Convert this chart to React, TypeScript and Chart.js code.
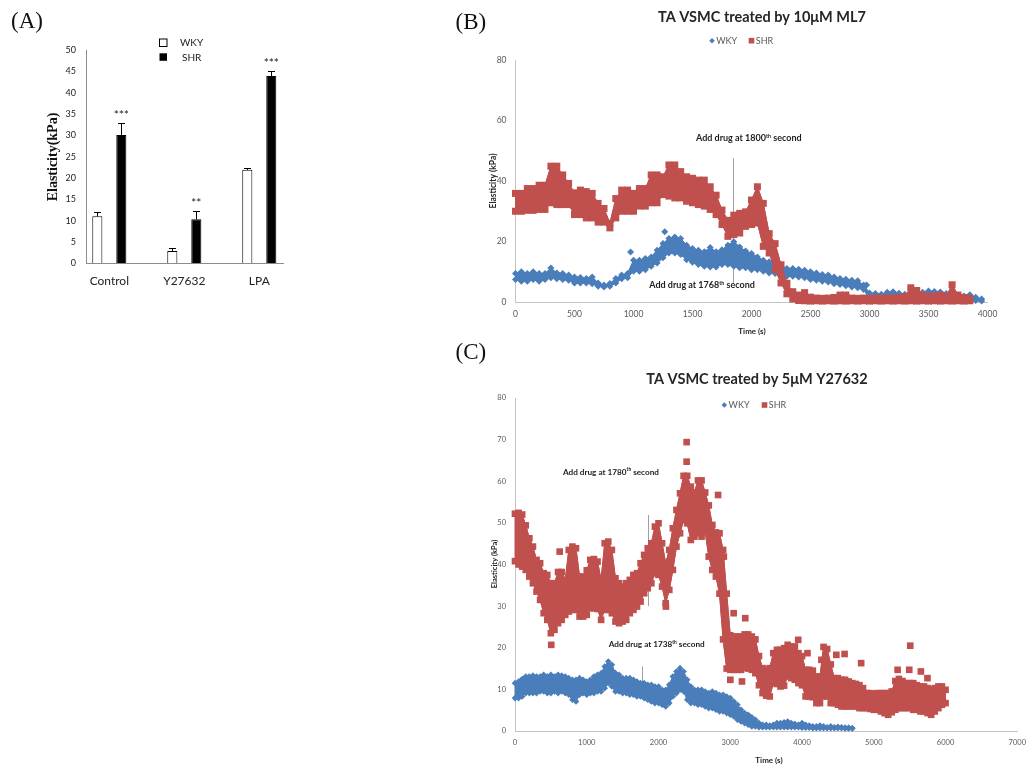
import React, { useEffect, useRef } from 'react';
import { Chart, registerables } from 'chart.js';

Chart.register(...registerables);

const SANS = "Lato, 'Open Sans', 'DejaVu Sans', sans-serif";
const SERIF = "'Liberation Serif', 'DejaVu Serif', 'Times New Roman', serif";
const BLUE = '#4a7ebb';
const RED = '#c0504d';
const AXIS_GRAY = '#c4c4c4';
const TICK_GRAY = '#595959';

// ---------------- Panel A : bar chart ----------------
const A_CATEGORIES = ['Control', 'Y27632', 'LPA'];
const A_SERIES = ['WKY', 'SHR'];
const A_WKY = [11.0, 2.9, 21.9];
const A_WKY_ERR = [1.0, 0.6, 0.5];
const A_SHR = [30.1, 10.3, 43.9];
const A_SHR_ERR = [2.9, 2.0, 1.2];
const A_SIGNIFICANCE = ['***', '**', '***'];

// ---------------- Panel B : ML7 time course ----------------
const B_TIME = [0, 50, 100, 150, 200, 250, 300, 350, 400, 450, 500, 550, 600, 650, 700, 750, 800, 850, 900, 950,
  1000, 1050, 1100, 1150, 1200, 1250, 1300, 1350, 1400, 1450, 1500, 1550, 1600, 1650, 1700, 1750, 1800, 1850, 1900, 1950,
  2000, 2050, 2100, 2150, 2200, 2250, 2300, 2350, 2400, 2450, 2500, 2550, 2600, 2650, 2700, 2750, 2800, 2850, 2900, 2950,
  3000, 3050, 3100, 3150, 3200, 3250, 3300, 3350, 3400, 3450, 3500, 3550, 3600, 3650, 3700, 3750, 3800, 3850, 3900, 3950];
// SHR band (upper / lower extent of the point cloud), 0..3850 s
const B_SHR_HI = [35.9, 35.9, 37.5, 37.5, 38.6, 38.6, 44.9, 44.9, 42.0, 39.2,
  36.1, 37.0, 36.5, 35.9, 32.6, 30.9, 26.0, 34.2, 37.0, 37.0,
  35.9, 37.5, 37.5, 42.0, 42.0, 41.4, 45.3, 45.3, 43.1, 41.4,
  40.9, 40.3, 40.3, 38.1, 35.3, 30.4, 27.0, 28.7, 29.3, 29.8,
  33.7, 38.1, 32.6, 22.6, 19.3, 12.3, 6.2, 3.4, 2.3, 3.1,
  1.6, 1.3, 1.2, 1.3, 1.5, 2.3, 2.3, 1.3, 1.2, 1.3,
  1.2, 1.3, 1.2, 1.4, 1.3, 1.5, 1.8, 4.7, 3.8, 2.3,
  1.8, 2.0, 2.3, 1.8, 5.7, 2.3, 1.5, 1.2];
const B_SHR_LO = [30.0, 30.0, 30.3, 30.3, 30.6, 30.6, 32.8, 32.2, 32.2, 32.2,
  28.9, 28.9, 27.8, 27.8, 26.4, 26.4, 24.5, 27.8, 30.0, 30.0,
  30.0, 31.7, 31.7, 32.8, 32.8, 35.5, 35.0, 34.4, 34.4, 33.3,
  32.8, 32.2, 31.7, 30.6, 28.9, 25.6, 21.7, 22.3, 22.8, 25.0,
  25.6, 26.1, 18.4, 16.2, 10.7, 6.3, 2.7, 1.0, 0.5, 0.4,
  0.3, 0.4, 0.3, 0.4, 0.3, 0.4, 0.3, 0.4, 0.3, 0.4,
  0.3, 0.4, 0.3, 0.4, 0.3, 0.4, 0.3, 0.4, 0.3, 0.4,
  0.3, 0.4, 0.3, 0.4, 0.3, 0.4, 0.3, 0.4];
// WKY band, 0..3950 s
const B_WKY_HI = [9.4, 10.0, 9.4, 10.0, 9.4, 9.4, 11.2, 9.6, 9.4, 8.9,
  8.3, 8.1, 7.8, 8.3, 6.3, 5.6, 6.1, 7.8, 8.9, 9.4,
  13.8, 13.8, 14.4, 14.9, 17.1, 19.3, 21.0, 21.5, 21.0, 18.8,
  17.7, 17.1, 16.6, 18.0, 16.6, 17.3, 18.8, 19.9, 18.2, 16.9,
  16.0, 14.9, 13.8, 13.3, 12.5, 11.9, 11.1, 11.1, 10.8, 10.5,
  10.0, 9.6, 9.1, 8.9, 8.3, 7.8, 7.5, 7.2, 7.0, 5.6,
  3.0, 2.8, 2.6, 3.2, 3.4, 2.9, 2.6, 2.8, 3.0, 3.2,
  3.6, 3.5, 3.3, 2.8, 2.5, 2.2, 2.0, 2.4, 1.6, 1.0];
const B_WKY_LO = [7.4, 6.9, 6.9, 7.4, 6.9, 7.4, 8.0, 7.7, 7.4, 7.2,
  6.3, 6.3, 6.3, 6.0, 5.2, 5.0, 5.2, 6.3, 7.7, 8.0,
  10.2, 10.2, 10.7, 11.8, 12.9, 14.6, 16.2, 16.2, 15.7, 14.0,
  13.1, 12.4, 11.8, 11.6, 11.6, 12.4, 12.4, 11.8, 11.3, 11.3,
  10.7, 10.7, 10.2, 9.6, 9.4, 9.1, 8.5, 8.5, 8.3, 8.0,
  7.4, 7.2, 6.9, 6.6, 6.0, 5.8, 5.4, 5.0, 4.7, 4.1,
  1.2, 1.2, 1.0, 1.2, 1.3, 1.2, 1.0, 1.0, 1.2, 1.3,
  1.4, 1.4, 1.3, 1.0, 0.9, 0.8, 0.7, 0.8, 0.5, 0.3];
const B_WKY_OUT_T = [975, 1265, 2975];
const B_WKY_OUT_V = [16.5, 23.2, 5.6];
const B_SHR_OUT_T: number[] = [];
const B_SHR_OUT_V: number[] = [];

// ---------------- Panel C : Y27632 time course ----------------
const C_TIME = [0, 50, 100, 150, 200, 250, 300, 350, 400, 450, 500, 550, 600, 650, 700, 750, 800, 850, 900, 950,
  1000, 1050, 1100, 1150, 1200, 1250, 1300, 1350, 1400, 1450, 1500, 1550, 1600, 1650, 1700, 1750, 1800, 1850, 1900, 1950,
  2000, 2050, 2100, 2150, 2200, 2250, 2300, 2350, 2400, 2450, 2500, 2550, 2600, 2650, 2700, 2750, 2800, 2850, 2900, 2950,
  3000, 3050, 3100, 3150, 3200, 3250, 3300, 3350, 3400, 3450, 3500, 3550, 3600, 3650, 3700, 3750, 3800, 3850, 3900, 3950,
  4000, 4050, 4100, 4150, 4200, 4250, 4300, 4350, 4400, 4450, 4500, 4550, 4600, 4650, 4700, 4750, 4800, 4850, 4900, 4950,
  5000, 5050, 5100, 5150, 5200, 5250, 5300, 5350, 5400, 5450, 5500, 5550, 5600, 5650, 5700, 5750, 5800, 5850, 5900, 5950,
  6000];
const C_SHR_HI = [52.2, 52.4, 52.0, 49.4, 46.3, 44.3, 41.1, 40.3, 37.9, 37.5,
  35.5, 35.5, 38.2, 38.2, 36.3, 43.5, 44.3, 43.9, 37.1, 37.1,
  38.6, 41.1, 41.3, 40.7, 36.3, 45.1, 45.5, 43.5, 36.7, 35.5,
  34.7, 35.5, 36.3, 37.5, 37.9, 40.3, 42.3, 43.9, 45.1, 49.1,
  49.9, 45.1, 40.3, 43.5, 48.7, 53.1, 57.1, 61.3, 61.3, 58.7,
  57.3, 60.2, 60.2, 57.3, 54.2, 49.5, 47.7, 47.5, 43.5, 33.0,
  23.0, 22.7, 22.7, 22.7, 23.2, 23.2, 22.7, 22.0, 18.0, 15.1,
  14.7, 15.1, 18.7, 19.5, 19.5, 19.9, 20.7, 20.3, 20.3, 18.7,
  18.0, 14.7, 14.7, 14.5, 13.1, 13.1, 20.2, 19.7, 16.0, 12.7,
  12.7, 12.3, 12.3, 11.9, 11.5, 11.3, 11.0, 10.3, 9.1, 9.1,
  8.9, 9.1, 9.1, 9.1, 9.1, 9.5, 12.0, 12.5, 12.0, 11.5,
  11.5, 11.5, 11.0, 10.7, 10.7, 10.3, 9.9, 10.3, 10.7, 10.7,
  9.9];
const C_SHR_LO = [40.8, 40.0, 39.5, 38.7, 37.1, 35.5, 33.5, 31.5, 28.3, 26.7,
  23.5, 24.3, 25.9, 26.7, 27.9, 28.7, 29.1, 29.1, 27.5, 27.5,
  27.9, 29.5, 29.5, 29.3, 26.7, 29.1, 29.1, 28.3, 26.3, 25.9,
  26.3, 26.7, 28.3, 29.1, 29.9, 31.1, 33.1, 34.3, 35.5, 37.9,
  37.5, 34.7, 30.7, 33.9, 38.7, 44.3, 47.5, 50.7, 49.9, 45.9,
  46.7, 47.5, 46.7, 47.9, 41.9, 38.7, 37.1, 33.0, 22.0, 15.0,
  14.7, 14.7, 14.7, 14.7, 15.2, 15.0, 14.7, 13.9, 11.0, 9.1,
  8.5, 8.3, 11.5, 11.3, 10.7, 10.9, 13.1, 12.7, 12.3, 11.5,
  11.0, 8.3, 8.3, 8.1, 6.7, 6.7, 8.3, 8.3, 6.7, 6.7,
  6.3, 5.9, 5.9, 5.9, 5.9, 5.9, 5.5, 5.5, 5.5, 5.3,
  5.1, 5.1, 4.7, 4.3, 3.9, 4.5, 5.1, 5.5, 5.5, 5.5,
  5.5, 5.1, 5.1, 4.7, 4.7, 4.3, 3.9, 4.7, 5.5, 6.3,
  6.7];
const C_SHR_OUT_T = [505, 623, 2103, 2392, 2392, 2830, 2910, 3001, 3047, 3163, 3209, 3947, 4076, 4270, 4478, 4593, 4824, 5332, 5494, 5508, 5656, 5748];
const C_SHR_OUT_V = [20.7, 43.1, 29.9, 64.7, 69.4, 56.7, 41.9, 12.3, 28.3, 11.9, 27.1, 21.9, 18.7, 17.1, 18.3, 18.5, 16.3, 14.7, 14.7, 20.5, 14.3, 12.7];
const C_WKY_HI = [11.5, 11.9, 12.5, 13.1, 13.1, 13.3, 13.1, 13.1, 13.5, 13.1,
  13.5, 13.1, 13.5, 13.3, 13.1, 12.7, 12.3, 12.3, 12.7, 12.3,
  11.9, 12.3, 13.1, 13.5, 13.9, 15.5, 16.7, 15.9, 13.9, 13.5,
  12.7, 12.7, 12.7, 12.3, 11.9, 11.5, 11.5, 11.1, 11.1, 10.7,
  10.7, 9.9, 9.9, 11.1, 13.1, 14.3, 15.1, 14.3, 12.3, 10.7,
  9.9, 9.9, 9.9, 9.5, 9.1, 9.5, 9.1, 8.7, 8.7, 8.3,
  7.9, 7.1, 6.3, 5.1, 4.3, 3.9, 3.3, 2.7, 1.9, 1.5,
  1.5, 1.3, 1.5, 1.9, 1.9, 2.1, 2.3, 1.9, 1.7, 1.5,
  1.9, 1.5, 1.3, 1.1, 1.1, 1.3, 1.1, 0.9, 1.1, 0.9,
  1.0, 0.9, 0.8, 0.8, 0.7];
const C_WKY_LO = [7.9, 7.9, 8.3, 9.1, 9.1, 9.1, 9.1, 9.5, 9.5, 9.1,
  9.1, 9.5, 9.1, 9.5, 9.1, 8.7, 7.5, 7.1, 8.7, 9.1,
  8.7, 9.1, 9.1, 9.5, 9.5, 10.3, 11.5, 10.7, 9.5, 9.5,
  9.1, 9.1, 8.7, 8.7, 8.3, 8.3, 7.9, 7.5, 7.1, 6.7,
  6.7, 6.3, 5.9, 6.7, 8.3, 9.1, 9.9, 9.5, 7.5, 6.7,
  6.7, 6.3, 6.3, 5.9, 5.5, 5.5, 5.1, 4.7, 4.7, 4.3,
  3.9, 3.5, 2.7, 2.3, 1.9, 1.5, 1.1, 1.1, 0.9, 0.9,
  0.9, 0.9, 0.9, 0.9, 0.9, 0.9, 0.9, 0.9, 0.9, 0.9,
  0.8, 0.8, 0.8, 0.7, 0.7, 0.7, 0.7, 0.7, 0.7, 0.7,
  0.7, 0.7, 0.6, 0.6, 0.6];
const C_WKY_OUT_T: number[] = [];
const C_WKY_OUT_V: number[] = [];

// ---------------- helpers ----------------
function pts(time: number[], values: number[]) {
  return values.map((v, i) => ({ x: time[i], y: v }));
}

// datasets per series: [upper edge, lower edge, isolated points]
function bandDatasets(label: string, time: number[], hi: number[], lo: number[], outT: number[], outV: number[],
  color: string, pointStyle: string, radius: number) {
  const common: any = {
    borderColor: color, backgroundColor: color, pointBackgroundColor: color, pointBorderColor: color,
    pointBorderWidth: 0, pointStyle, pointRadius: radius, pointHoverRadius: radius,
    borderWidth: 1, tension: 0, clip: false, fill: false,
  };
  return [
    { ...common, label, data: pts(time, hi) },
    { ...common, label: label + ' lower', data: pts(time, lo) },
    { ...common, label: label + ' single', data: pts(outT, outV), showLine: false },
  ];
}

// fills the area between the upper-edge and lower-edge datasets of each series,
// right before the upper dataset is drawn (keeps SHR above WKY)
function bandFillPlugin(bands: { hi: number; lo: number; color: string }[]) {
  return {
    id: 'bandFill',
    beforeDatasetDraw(chart: any, args: any) {
      for (const b of bands) {
        if (args.index !== b.hi) continue;
        const hiPts = chart.getDatasetMeta(b.hi).data;
        const loPts = chart.getDatasetMeta(b.lo).data;
        const ctx = chart.ctx;
        ctx.save();
        ctx.fillStyle = b.color;
        ctx.strokeStyle = b.color;
        ctx.lineWidth = 1;
        ctx.beginPath();
        hiPts.forEach((p: any, i: number) => (i ? ctx.lineTo(p.x, p.y) : ctx.moveTo(p.x, p.y)));
        for (let i = loPts.length - 1; i >= 0; i--) ctx.lineTo(loPts[i].x, loPts[i].y);
        ctx.closePath();
        ctx.fill();
        ctx.stroke();
        ctx.restore();
      }
    },
  };
}

function timeScales(xMax: number, xStep: number, yMax: number, yStep: number, tickSize: number, yWidth: number, xHeight: number) {
  const font = { family: SANS, size: tickSize };
  return {
    x: {
      type: 'linear', min: 0, max: xMax,
      ticks: { stepSize: xStep, font, color: TICK_GRAY, padding: 7, maxRotation: 0, autoSkip: false, callback: (v: any) => String(v) },
      grid: { display: false, drawTicks: false },
      border: { color: AXIS_GRAY, width: 1 },
      afterFit: (s: any) => { s.height = xHeight; },
    },
    y: {
      type: 'linear', min: 0, max: yMax,
      ticks: { stepSize: yStep, font, color: TICK_GRAY, padding: 9, callback: (v: any) => String(v) },
      grid: { display: false, drawTicks: false },
      border: { color: AXIS_GRAY, width: 1 },
      afterFit: (s: any) => { s.width = yWidth; },
    },
  };
}

function drawNote(ctx: CanvasRenderingContext2D, cx: number, cy: number, pre: string, sup: string, post: string, size: number) {
  const f = `bold ${size}px ${SANS}`;
  const fs = `bold ${(size * 0.6).toFixed(2)}px ${SANS}`;
  ctx.font = f;
  const w1 = ctx.measureText(pre).width;
  const w3 = ctx.measureText(post).width;
  ctx.font = fs;
  const w2 = ctx.measureText(sup).width;
  let x = cx - (w1 + w2 + w3) / 2;
  const base = cy + size * 0.36;
  ctx.textAlign = 'left';
  ctx.textBaseline = 'alphabetic';
  ctx.fillStyle = '#1e1e1e';
  ctx.font = f; ctx.fillText(pre, x, base); x += w1;
  ctx.font = fs; ctx.fillText(sup, x, base - size * 0.42); x += w2;
  ctx.font = f; ctx.fillText(post, x, base);
}

function decorPlugin(spec: any) {
  return {
    id: 'decor',
    beforeDatasetsDraw(chart: any) {
      const { ctx, scales: { x, y } } = chart;
      ctx.save();
      ctx.strokeStyle = '#a0a0a0';
      ctx.lineWidth = 1;
      for (const ln of spec.lines) {
        const px = Math.round(x.getPixelForValue(ln.t)) + 0.5;
        ctx.beginPath();
        ctx.moveTo(px, y.getPixelForValue(ln.from));
        ctx.lineTo(px, y.getPixelForValue(ln.to));
        ctx.stroke();
      }
      ctx.restore();
    },
    afterDraw(chart: any) {
      const { ctx, scales: { x, y } } = chart;
      ctx.save();
      // title
      ctx.font = `bold ${spec.titleSize}px ${SANS}`;
      ctx.fillStyle = '#262626';
      ctx.textAlign = 'center';
      ctx.textBaseline = 'alphabetic';
      ctx.fillText(spec.title, spec.titleX, spec.titleY);
      // legend
      const ly = spec.legendY;
      ctx.fillStyle = BLUE;
      const r = spec.legendMarker;
      ctx.beginPath();
      ctx.moveTo(spec.wkyX, ly - r); ctx.lineTo(spec.wkyX + r, ly); ctx.lineTo(spec.wkyX, ly + r); ctx.lineTo(spec.wkyX - r, ly);
      ctx.closePath(); ctx.fill();
      ctx.fillStyle = RED;
      ctx.fillRect(spec.shrX - r, ly - r, 2 * r, 2 * r);
      ctx.font = `${spec.legendSize}px ${SANS}`;
      ctx.fillStyle = TICK_GRAY;
      ctx.textAlign = 'left';
      ctx.textBaseline = 'middle';
      ctx.fillText(A_SERIES[0], spec.wkyX + r + 1.5, ly + 0.5);
      ctx.fillText(A_SERIES[1], spec.shrX + r + 1.5, ly + 0.5);
      // axis titles
      ctx.fillStyle = '#262626';
      ctx.textAlign = 'center';
      ctx.font = `bold ${spec.xTitleSize}px ${SANS}`;
      ctx.fillText('Time (s)', spec.xTitleX, spec.xTitleY);
      ctx.save();
      ctx.translate(spec.yTitleX, spec.yTitleY);
      ctx.rotate(-Math.PI / 2);
      ctx.font = `bold ${spec.yTitleSize}px ${SANS}`;
      ctx.fillText('Elasticity (kPa)', 0, 0);
      ctx.restore();
      // drug notes
      for (const n of spec.notes) {
        drawNote(ctx, x.getPixelForValue(n.t), y.getPixelForValue(n.v), n.pre, 'th', ' second', spec.noteSize);
      }
      ctx.restore();
    },
  };
}

// ---------------- chart builders ----------------
const aDecor = {
  id: 'aDecor',
  afterDatasetsDraw(chart: any) {
    const { ctx, scales: { y } } = chart;
    const errs = [A_WKY_ERR, A_SHR_ERR];
    const vals = [A_WKY, A_SHR];
    ctx.save();
    ctx.strokeStyle = '#000';
    ctx.lineWidth = 1;
    for (let di = 0; di < 2; di++) {
      const meta = chart.getDatasetMeta(di);
      meta.data.forEach((bar: any, i: number) => {
        const top = Math.round(y.getPixelForValue(vals[di][i] + errs[di][i])) + 0.5;
        const xx = Math.round(bar.x) + 0.5;
        ctx.beginPath();
        ctx.moveTo(xx, bar.y);
        ctx.lineTo(xx, top);
        ctx.moveTo(xx - 3.5, top);
        ctx.lineTo(xx + 3.5, top);
        ctx.stroke();
        if (di === 1) {
          ctx.font = `12px ${SANS}`;
          ctx.fillStyle = '#222';
          ctx.textAlign = 'center';
          ctx.textBaseline = 'alphabetic';
          ctx.fillText(A_SIGNIFICANCE[i], bar.x, top - 4.5);
        }
      });
    }
    ctx.restore();
  },
  afterDraw(chart: any) {
    const { ctx } = chart;
    ctx.save();
    // legend
    ctx.lineWidth = 1;
    ctx.strokeStyle = '#000';
    ctx.fillStyle = '#fff';
    ctx.fillRect(159.5, 39, 7.5, 7.5);
    ctx.strokeRect(159.5, 39, 7.5, 7.5);
    ctx.fillStyle = '#000';
    ctx.fillRect(159.5, 53.3, 7.5, 7.5);
    ctx.font = `10px ${SANS}`;
    ctx.fillStyle = '#222';
    ctx.textAlign = 'left';
    ctx.textBaseline = 'middle';
    ctx.fillText(A_SERIES[0], 180, 43);
    ctx.fillText(A_SERIES[1], 182, 57.3);
    // y title
    ctx.translate(53, 157);
    ctx.rotate(-Math.PI / 2);
    ctx.font = `bold 14px ${SERIF}`;
    ctx.textAlign = 'center';
    ctx.fillStyle = '#111';
    ctx.fillText('Elasticity(kPa)', 0, 0);
    ctx.restore();
  },
};

function buildA(): any {
  const barOpts = { categoryPercentage: 0.64, barPercentage: 0.42, borderWidth: 1, borderColor: '#000' };
  return {
    type: 'bar',
    data: {
      datasets: [
        { ...barOpts, label: A_SERIES[0], data: A_WKY.map((v, i) => ({ x: i, y: v })), backgroundColor: '#ffffff' },
        { ...barOpts, label: A_SERIES[1], data: A_SHR.map((v, i) => ({ x: i, y: v })), backgroundColor: '#000000' },
      ],
    },
    options: {
      responsive: false,
      animation: false,
      events: [],
      layout: { padding: { left: 46, top: 50, right: 57, bottom: 6.7 } },
      plugins: { legend: { display: false }, tooltip: { enabled: false }, title: { display: false } },
      scales: {
        x: {
          type: 'linear', min: -0.311, max: 2.316, offset: false,
          afterBuildTicks: (s: any) => { s.ticks = A_CATEGORIES.map((_, i) => ({ value: i })); },
          ticks: { callback: (v: any) => A_CATEGORIES[v] ?? '', font: { family: SANS, size: 12 }, color: '#222', padding: 10.5, maxRotation: 0, autoSkip: false },
          grid: { display: false, drawTicks: false, offset: false },
          border: { color: '#8c8c8c' },
          afterFit: (s: any) => { s.height = 30; },
        },
        y: {
          min: 0, max: 50,
          ticks: { stepSize: 5, font: { family: SANS, size: 9 }, color: '#222', padding: 10 },
          grid: { display: false, drawTicks: false },
          border: { color: '#8c8c8c' },
          afterFit: (s: any) => { s.width = 40; },
        },
      },
    },
    plugins: [aDecor],
  };
}

function buildB(): any {
  return {
    type: 'line',
    data: {
      datasets: [
        ...bandDatasets('SHR', B_TIME, B_SHR_HI, B_SHR_LO, B_SHR_OUT_T, B_SHR_OUT_V, RED, 'rect', 4.95),
        ...bandDatasets('WKY', B_TIME, B_WKY_HI, B_WKY_LO, B_WKY_OUT_T, B_WKY_OUT_V, BLUE, 'rectRot', 3.5),
      ],
    },
    options: {
      responsive: false,
      animation: false,
      events: [],
      layout: { padding: { left: 35.5, top: 60, right: 45.5, bottom: 0 } },
      plugins: { legend: { display: false }, tooltip: { enabled: false }, title: { display: false } },
      scales: timeScales(4000, 500, 80, 20, 8.5, 40, 38),
    },
    plugins: [
      bandFillPlugin([{ hi: 0, lo: 1, color: RED }, { hi: 3, lo: 4, color: BLUE }]),
      decorPlugin({
        title: 'TA VSMC treated by 10μM ML7', titleSize: 14.5, titleX: 322, titleY: 21.5,
        legendY: 40.7, legendMarker: 2.8, legendSize: 9, wkyX: 272, shrX: 311.5,
        xTitleSize: 8, xTitleX: 312, xTitleY: 331,
        yTitleSize: 8.5, yTitleX: 53, yTitleY: 181,
        noteSize: 9,
        notes: [{ pre: 'Add drug at 1800', t: 1977, v: 54.2 }, { pre: 'Add drug at 1768', t: 1581, v: 5.6 }],
        lines: [{ t: 1847, from: 6, to: 47.5 }],
      }),
    ],
  };
}

function buildC(): any {
  return {
    type: 'line',
    data: {
      datasets: [
        ...bandDatasets('SHR', C_TIME, C_SHR_HI, C_SHR_LO, C_SHR_OUT_T, C_SHR_OUT_V, RED, 'rect', 4.7),
        ...bandDatasets('WKY', C_TIME, C_WKY_HI, C_WKY_LO, C_WKY_OUT_T, C_WKY_OUT_V, BLUE, 'rectRot', 3.3),
      ],
    },
    options: {
      responsive: false,
      animation: false,
      events: [],
      layout: { padding: { left: 35, top: 63, right: 13, bottom: 5 } },
      plugins: { legend: { display: false }, tooltip: { enabled: false }, title: { display: false } },
      scales: timeScales(7000, 1000, 80, 10, 7.5, 40, 30),
    },
    plugins: [
      bandFillPlugin([{ hi: 0, lo: 1, color: RED }, { hi: 3, lo: 4, color: BLUE }]),
      decorPlugin({
        title: 'TA VSMC treated by 5μM Y27632', titleSize: 14.5, titleX: 317, titleY: 49,
        legendY: 70, legendMarker: 2.8, legendSize: 9, wkyX: 284.3, shrX: 324.5,
        xTitleSize: 8, xTitleX: 329, xTitleY: 425,
        yTitleSize: 7.5, yTitleX: 55, yTitleY: 229,
        noteSize: 8.2,
        notes: [{ pre: 'Add drug at 1780', t: 1337, v: 62.3 }, { pre: 'Add drug at 1738', t: 1974, v: 20.8 }],
        lines: [{ t: 1856, from: 30, to: 51.9 }, { t: 1764, from: 9, to: 15.5 }],
      }),
    ],
  };
}

function ChartCanvas({ left, top, width, height, build }: { left: number; top: number; width: number; height: number; build: () => any }) {
  const ref = useRef<HTMLCanvasElement>(null);
  useEffect(() => {
    const chart = new Chart(ref.current as HTMLCanvasElement, build());
    return () => chart.destroy();
  }, [build]);
  return <canvas ref={ref} width={width} height={height} style={{ position: 'absolute', left, top, width, height, display: 'block' }} />;
}

const panelLabel = (left: number, top: number): React.CSSProperties => ({
  position: 'absolute', left, top, fontFamily: SERIF, fontSize: 23, lineHeight: '23px', color: '#111', whiteSpace: 'nowrap',
});

export default function App() {
  return (
    <div style={{ position: 'fixed', left: 0, top: 0, width: 1033, height: 766, background: '#ffffff', overflow: 'hidden' }}>
      <ChartCanvas left={0} top={0} width={340} height={300} build={buildA} />
      <ChartCanvas left={440} top={0} width={593} height={340} build={buildB} />
      <ChartCanvas left={440} top={335} width={593} height={431} build={buildC} />
      <div style={panelLabel(11, 9)}>(A)</div>
      <div style={panelLabel(455.5, 10)}>(B)</div>
      <div style={panelLabel(455.5, 340)}>(C)</div>
    </div>
  );
}
